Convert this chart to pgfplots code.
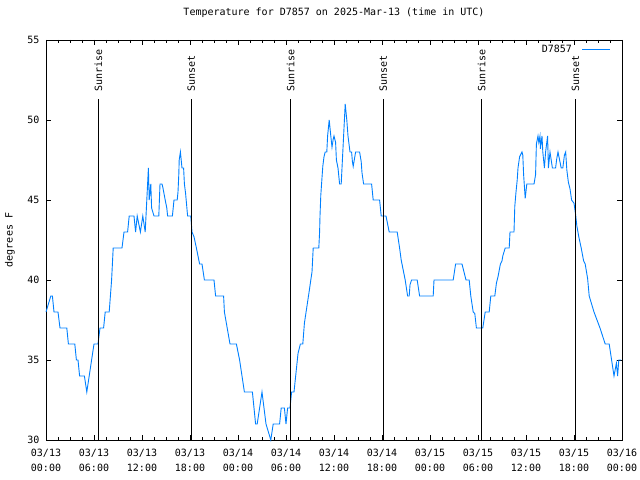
\documentclass[border=0pt]{standalone}
\usepackage{fontspec}
\setmainfont{DejaVu Sans Mono}
\setmonofont{DejaVu Sans Mono}
\usepackage{pgfplots}
\pgfplotsset{compat=1.18}
\definecolor{tline}{RGB}{0,128,255}
\begin{document}
\fontsize{10bp}{15bp}\selectfont
\begin{tikzpicture}
\path[use as bounding box] (0,0) rectangle (640bp,480bp);
\begin{axis}[
  at={(46bp,40bp)}, anchor=south west,
  scale only axis, width=576bp, height=400bp,
  xmin=0, xmax=72, ymin=30, ymax=55,
  xtick={0,6,...,72}, minor x tick num=3,
  ytick={30,35,...,55},
  tick align=inside,
  major tick length=5bp, minor tick length=3bp,
  every tick/.style={black, line width=0.8bp},
  axis line style={black, line width=0.8bp},
  /pgf/number format/assume math mode=true,
  tick label style={font=\fontsize{10bp}{15bp}\selectfont},
  xticklabels={{03/13\\00:00},{03/13\\06:00},{03/13\\12:00},{03/13\\18:00},{03/14\\00:00},{03/14\\06:00},{03/14\\12:00},{03/14\\18:00},{03/15\\00:00},{03/15\\06:00},{03/15\\12:00},{03/15\\18:00},{03/16\\00:00}},
  xticklabel style={align=center, yshift=-6bp},
  yticklabel style={xshift=-3bp},
  title={Temperature for D7857 on 2025-Mar-13 (time in UTC)},
  title style={at={(axis description cs:0.5,1)}, anchor=center, yshift=21bp, font=\fontsize{10bp}{15bp}\selectfont},
  ylabel={degrees F},
  ylabel style={at={(axis description cs:-0.0625,0.5)}, anchor=center, font=\fontsize{10bp}{15bp}\selectfont},
  legend style={at={(axis description cs:1,1)}, anchor=north east, xshift=-10bp, yshift=-2bp, draw=none, fill=none, legend plot pos=right, font=\fontsize{10bp}{15bp}\selectfont, inner sep=1bp},
  legend image code/.code={\draw[#1] (0bp,0bp) -- (28bp,0bp);},
  clip=false,
]
\addplot[tline, line width=0.9bp] coordinates {
(0,38) (0.3,38.5) (0.6,39) (0.8,39) (1.0,38) (1.5,38) (1.75,37) (2.6,37) (2.8,36) (3.6,36) (3.8,35) (4.0,35) (4.2,34) (4.8,34) (5.1,33) (5.4,34) (5.7,35) (6.0,36) (6.5,36) (6.75,37) (7.2,37) (7.4,38) (7.9,38) (8.2,40) (8.3,41) (8.4,42) (9.5,42) (9.75,43) (10.2,43) (10.4,44) (11.0,44) (11.2,43) (11.4,44) (11.8,43) (12.1,44) (12.4,43) (12.5,44) (12.6,45) (12.7,46) (12.8,47) (12.9,45) (13.1,46) (13.2,44.5) (13.5,44) (14.1,44) (14.25,46) (14.5,46) (14.6,45.8) (14.75,45.4) (14.9,45) (15.1,44.5) (15.2,44) (15.8,44) (15.9,44.5) (16.0,45) (16.4,45) (16.5,45.5) (16.6,46.6) (16.65,47.5) (16.8,48) (16.9,47.5) (17.0,47) (17.2,47) (17.3,46) (17.45,45.4) (17.7,44) (18.1,44) (18.25,43) (18.5,42.7) (18.8,42) (19.2,41) (19.5,41) (19.8,40) (21.0,40) (21.2,39) (22.2,39) (22.3,38) (22.65,37) (23.0,36) (23.8,36) (24.2,35) (24.5,34) (24.8,33) (25.8,33) (26.2,31) (26.4,31) (27.0,33) (27.5,31) (27.8,30.5) (28.1,30) (28.4,31) (29.2,31) (29.4,32) (29.8,32) (30.0,31) (30.2,32) (30.5,32) (30.7,33) (31.0,33) (31.25,34.2) (31.5,35.4) (31.8,36) (32.1,36) (32.3,37.3) (32.6,38.3) (32.9,39.3) (33.1,40) (33.25,40.5) (33.4,42) (34.1,42) (34.2,43) (34.25,44) (34.35,45.3) (34.5,46.4) (34.6,47.1) (34.75,47.7) (34.9,48) (35.1,48) (35.2,49) (35.4,50) (35.6,49) (35.75,48.3) (35.9,48.8) (36.0,49) (36.2,48.6) (36.3,47.5) (36.5,47) (36.7,46) (36.9,46) (37.0,47) (37.2,49) (37.4,51) (37.5,50.5) (37.6,50) (37.75,49) (38.0,48) (38.2,48) (38.3,47.4) (38.4,47.1) (38.7,48) (39.2,48) (39.4,47.4) (39.5,46.7) (39.7,46) (40.7,46) (40.9,45) (41.7,45) (41.9,44) (42.5,44) (42.9,43) (43.9,43) (44.2,42) (44.4,41.25) (44.5,41) (44.9,40) (45.2,39) (45.4,39) (45.5,39.7) (45.7,40) (46.4,40) (46.7,39) (48.4,39) (48.5,40) (50.9,40) (51.2,41) (52.0,41) (52.2,40.6) (52.5,40) (52.9,40) (53.1,39) (53.4,38) (53.6,37.9) (53.8,37) (54.6,37) (54.9,38) (55.4,38) (55.6,39) (56.1,39) (56.3,39.8) (56.5,40.2) (56.8,41) (57.0,41.2) (57.1,41.5) (57.4,42) (57.9,42) (58.0,43) (58.5,43) (58.6,44.6) (58.75,45.5) (58.9,46.25) (59.0,47) (59.2,47.7) (59.5,48) (59.6,47.8) (59.7,46.6) (59.9,45.1) (60.1,46) (61.0,46) (61.2,46.6) (61.25,47.6) (61.3,48.5) (61.5,49) (61.6,48.6) (61.75,49) (61.8,48.2) (61.9,48.6) (62.0,49) (62.1,48) (62.3,47) (62.45,48) (62.7,49) (62.8,47) (63.0,48) (63.3,47) (63.7,47) (63.85,47.6) (64.0,48) (64.4,47) (64.6,47) (64.8,47.8) (64.96,48) (65.1,46.9) (65.3,46.1) (65.5,45.7) (65.7,45) (66.0,44.8) (66.2,44.1) (66.35,43.4) (66.6,42.7) (66.9,42) (67.2,41.2) (67.4,41) (67.7,40.1) (67.9,39) (68.5,38) (69.25,37) (69.9,36) (70.4,36) (70.7,35) (71.0,34) (71.3,34.8) (71.45,34) (71.6,35) (71.9,35)
};
\addlegendentry{D7857\rule{8bp}{0pt}}
\addplot[black, line width=0.8bp, forget plot] coordinates {(6.55,30) (6.55,51.3)};
\addplot[black, line width=0.8bp, forget plot] coordinates {(18.17,30) (18.17,51.3)};
\addplot[black, line width=0.8bp, forget plot] coordinates {(30.57,30) (30.57,51.3)};
\addplot[black, line width=0.8bp, forget plot] coordinates {(42.15,30) (42.15,51.3)};
\addplot[black, line width=0.8bp, forget plot] coordinates {(54.45,30) (54.45,51.3)};
\addplot[black, line width=0.8bp, forget plot] coordinates {(66.17,30) (66.17,51.3)};
\node[rotate=90, anchor=west, inner sep=0pt] at (axis cs:6.55,51.75) {Sunrise};
\node[rotate=90, anchor=west, inner sep=0pt] at (axis cs:18.17,51.75) {Sunset};
\node[rotate=90, anchor=west, inner sep=0pt] at (axis cs:30.57,51.75) {Sunrise};
\node[rotate=90, anchor=west, inner sep=0pt] at (axis cs:42.15,51.75) {Sunset};
\node[rotate=90, anchor=west, inner sep=0pt] at (axis cs:54.45,51.75) {Sunrise};
\node[rotate=90, anchor=west, inner sep=0pt] at (axis cs:66.17,51.75) {Sunset};
\end{axis}
\end{tikzpicture}
\end{document}
